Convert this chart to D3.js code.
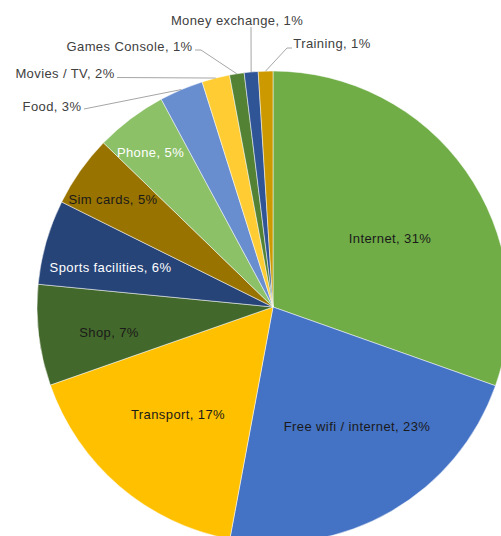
<!DOCTYPE html>
<html>
<head>
<meta charset="utf-8">
<script src="https://cdn.jsdelivr.net/npm/d3@7"></script>
<style>
body { margin: 0; background: #ffffff; }
</style>
</head>
<body>
<div id="canvas"></div>
<script>
"use strict"

// slices in drawing order, clockwise from 12 o'clock
let categories = ["Internet", "Free wifi / internet", "Transport", "Shop",
    "Sports facilities", "Sim cards", "Phone", "Food", "Movies / TV",
    "Games Console", "Money exchange", "Training"];
let values = [30.4, 22.5, 16.7, 6.9, 5.8, 4.9, 4.9, 3.0, 1.9, 1.0, 0.95, 1.0];
let percentLabels = ["31%", "23%", "17%", "7%", "6%", "5%", "5%", "3%", "2%", "1%", "1%", "1%"];

let colours = ["#70ad47", "#4472c4", "#ffc000", "#43682b", "#264478", "#997300",
    "#8cc168", "#698ed0", "#ffcd33", "#548235", "#2f5597", "#cc9a00"];

let drawingWidth = 501;
let drawingHeight = 536;

let centreX = 273;//middle of the pie
let centreY = 307;
let radius = 236;

// where each label sits (centre x, baseline y) and where its leader line starts
let labelLayout = [
    {x: 390, y: 243, fill: "#1a1a1a"},
    {x: 357, y: 430.5, fill: "#1a1a1a"},
    {x: 178, y: 418.5, fill: "#1a1a1a"},
    {x: 109, y: 337, fill: "#1a1a1a"},
    {x: 110.5, y: 272, fill: "#ffffff"},
    {x: 113, y: 204, fill: "#1a1a1a"},
    {x: 150.5, y: 157, fill: "#ffffff"},
    {x: 52, y: 111, fill: "#404040", leader: [[84, 109]]},
    {x: 65, y: 78, fill: "#404040", leader: [[117, 77.5]]},
    {x: 129.5, y: 51, fill: "#404040", leader: [[195, 50], [201, 50]]},
    {x: 237, y: 24.5, fill: "#404040", leader: [[251, 27]]},
    {x: 332, y: 48, fill: "#404040", leader: [[292, 48], [287, 48]]}
];

let drawing = d3.select("#canvas")
    .append("svg")
    .attr("width", drawingWidth)
    .attr("height", drawingHeight)
    .style("display", "block");

let pie = d3.pie()
    .sort(null)
    .value(d => d);

let slices = pie(values);

let sliceArc = d3.arc()
    .innerRadius(0)
    .outerRadius(radius);

// a zero-width arc on the rim, used to find where a leader meets its slice
let rimArc = d3.arc()
    .innerRadius(radius)
    .outerRadius(radius);

let pieGroup = drawing.append("g")
    .attr("transform", "translate(" + centreX + "," + centreY + ")");

pieGroup.selectAll("path")
    .data(slices)
    .enter()
    .append("path")
    .attr("d", sliceArc)
    .attr("fill", (d, i) => colours[i])
    .attr("stroke", "#ffffff")
    .attr("stroke-width", 0.5);

/* leader lines for the thin slices */
let line = d3.line();

drawing.selectAll("path.leader")
    .data(slices.filter((d, i) => labelLayout[i].leader))
    .enter()
    .append("path")
    .attr("class", "leader")
    .attr("d", d => {
        let rim = rimArc.centroid(d);
        let points = labelLayout[d.index].leader.concat([[rim[0] + centreX, rim[1] + centreY]]);
        return line(points);
    })
    .attr("fill", "none")
    .attr("stroke", "#a6a6a6")
    .attr("stroke-width", 1);

/* data labels */
drawing.selectAll("text.label")
    .data(slices)
    .enter()
    .append("text")
    .attr("class", "label")
    .attr("x", d => labelLayout[d.index].x)
    .attr("y", d => labelLayout[d.index].y)
    .attr("text-anchor", "middle")
    .attr("font-family", "'Liberation Sans', Arial, sans-serif")
    .attr("font-size", 13)
    .attr("letter-spacing", 0.4)
    .attr("fill", d => labelLayout[d.index].fill)
    .text(d => categories[d.index] + ", " + percentLabels[d.index]);
</script>
</body>
</html>
